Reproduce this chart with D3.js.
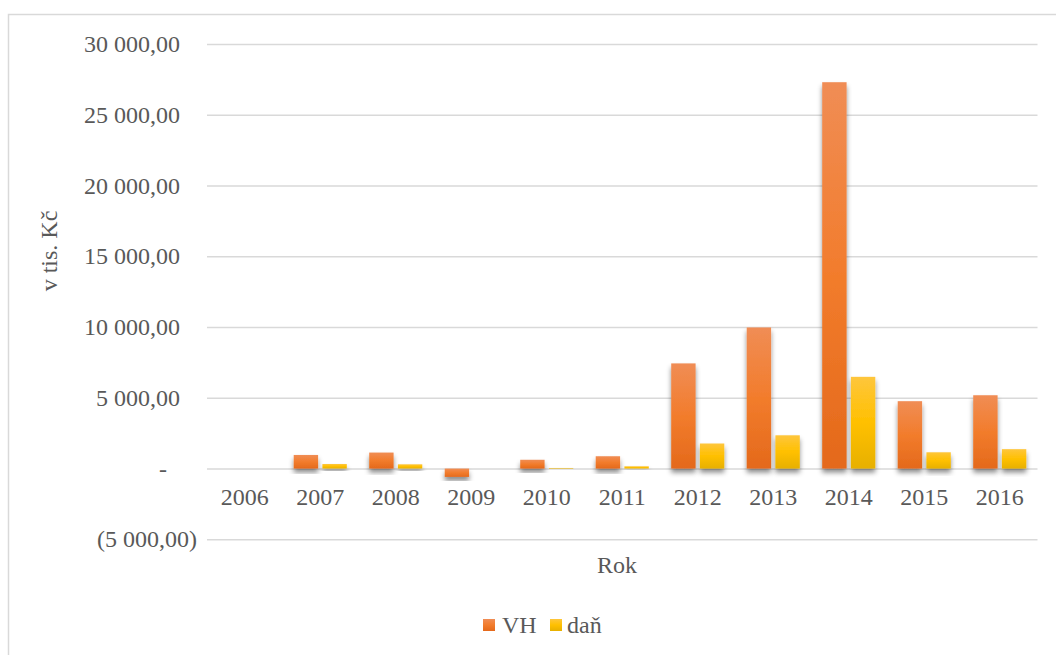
<!DOCTYPE html>
<html>
<head>
<meta charset="utf-8">
<script src="https://cdn.jsdelivr.net/npm/d3@7/dist/d3.min.js"></script>
<style>
  html, body { margin: 0; padding: 0; background: #fff; }
  svg { display: block; }
</style>
</head>
<body>
<svg id="chart" width="1056" height="655"></svg>
<script>
// Hospodářský výsledek (VH) a daň, v tis. Kč
const years = ["2006", "2007", "2008", "2009", "2010", "2011", "2012", "2013", "2014", "2015", "2016"];
const vh    = [0, 960, 1130, -590, 620, 870, 7430, 9970, 27300, 4760, 5180];
const dan   = [0, 320, 300, 0, 40, 160, 1770, 2350, 6480, 1150, 1370];
const seriesNames = ["VH", "daň"];
const yTicks = [-5000, 0, 5000, 10000, 15000, 20000, 25000, 30000];

const FONT = "'Liberation Serif', 'Times New Roman', serif";
const svg = d3.select("#chart");
const plot = { left: 207, right: 1037.5, top: 44, bottom: 539.3 };

// outer frame
svg.append("rect")
  .attr("x", 8.5).attr("y", 14.5)
  .attr("width", 1100).attr("height", 700)
  .attr("fill", "#fff").attr("stroke", "#d9d9d9").attr("stroke-width", 1.5);

const defs = svg.append("defs");
function grad(id, stops) {
  const g = defs.append("linearGradient").attr("id", id)
    .attr("x1", 0).attr("y1", 0).attr("x2", 0).attr("y2", 1);
  stops.forEach(([o, c]) => g.append("stop").attr("offset", o).attr("stop-color", c));
}
grad("gVH", [[0, "#f08d55"], [0.5, "#f27c2c"], [1, "#e4691b"]]);
grad("gDan", [[0, "#fec63c"], [0.5, "#ffc000"], [1, "#e7b000"]]);
const f = defs.append("filter").attr("id", "shadow")
  .attr("x", "-40%").attr("y", "-20%").attr("width", "180%").attr("height", "160%");
f.append("feDropShadow").attr("dx", 0).attr("dy", 4).attr("stdDeviation", 2.5)
  .attr("flood-color", "#000").attr("flood-opacity", 0.45);

const x0 = d3.scaleBand().domain(years).range([plot.left, plot.right])
  .paddingInner(0.297).paddingOuter(0.1485);
const x1 = d3.scaleBand().domain(seriesNames).range([0, x0.bandwidth()])
  .paddingInner(0.15);
const y = d3.scaleLinear().domain([-5000, 30000]).range([plot.bottom, plot.top]);

const loc = d3.formatLocale({ decimal: ",", thousands: " ", grouping: [3], currency: ["", ""] });
const fmt = loc.format(",.2f");

const txt = sel => sel.style("font-family", FONT).style("font-size", "24px").style("fill", "#595959");

// gridlines
const grid = svg.append("g").attr("transform", `translate(${plot.left},0)`)
  .call(d3.axisLeft(y).tickValues(yTicks).tickSize(-(plot.right - plot.left)).tickFormat(""));
grid.select(".domain").remove();
grid.selectAll(".tick line").attr("stroke", "#d9d9d9").attr("stroke-width", 1.5);

// y tick labels (accounting style)
svg.append("g").selectAll("text").data(yTicks).join("text")
  .call(txt)
  .attr("y", d => y(d) + 8)
  .attr("x", d => d > 0 ? 180 : d < 0 ? 197 : 167)
  .attr("text-anchor", "end")
  .text(d => d > 0 ? fmt(d) : d < 0 ? "(" + fmt(-d) + ")" : "-");

// bars
const rows = years.map((yr, i) => ({ year: yr, vals: [vh[i], dan[i]] }));
const fills = ["url(#gVH)", "url(#gDan)"];
const groups = svg.append("g").selectAll("g").data(rows).join("g")
  .attr("transform", d => `translate(${x0(d.year)},0)`);
groups.selectAll("rect").data(d => d.vals.map((v, k) => ({ v, k })))
  .join("rect")
  .attr("x", d => x1(seriesNames[d.k]))
  .attr("width", x1.bandwidth())
  .attr("y", d => y(Math.max(0, d.v)))
  .attr("height", d => Math.abs(y(d.v) - y(0)))
  .attr("fill", d => fills[d.k])
  .attr("filter", "url(#shadow)");

// category labels
svg.append("g").selectAll("text").data(years).join("text")
  .call(txt)
  .attr("x", d => x0(d) + x0.bandwidth() / 2)
  .attr("y", 505)
  .attr("text-anchor", "middle")
  .text(d => d);

// axis titles
svg.append("text").call(txt).attr("x", 617).attr("y", 573).attr("text-anchor", "middle")
  .text("Rok");
svg.append("text").call(txt).attr("transform", "translate(57,251) rotate(-90)")
  .attr("text-anchor", "middle").text("v tis. Kč");

// legend
const legend = svg.append("g");
const legItems = [
  { name: seriesNames[0], fill: fills[0], sx: 483, tx: 502 },
  { name: seriesNames[1], fill: fills[1], sx: 550, tx: 567 }
];
legend.selectAll("rect").data(legItems).join("rect")
  .attr("x", d => d.sx).attr("y", 619).attr("width", 12).attr("height", 12)
  .attr("fill", d => d.fill);
legend.selectAll("text").data(legItems).join("text")
  .call(txt)
  .attr("x", d => d.tx).attr("y", 633)
  .text(d => d.name);
</script>
</body>
</html>
